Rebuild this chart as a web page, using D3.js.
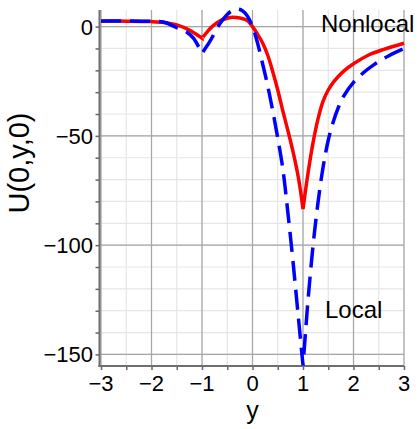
<!DOCTYPE html>
<html>
<head>
<meta charset="utf-8">
<script src="https://cdn.jsdelivr.net/npm/d3@7"></script>
<style>
  html, body { margin: 0; padding: 0; background: #fff; }
  svg { display: block; font-family: "Liberation Sans", Arial, Helvetica, sans-serif; }
</style>
</head>
<body>
<svg id="chart" width="418" height="429"></svg>
<script>
// Potential along the y axis, nonlocal vs local model
const nonlocalY = [-3, -2.5, -2, -1.75, -1.5, -1.25, -1, -0.9, -0.8, -0.65, -0.5, -0.4, -0.25, -0.1, 0, 0.1, 0.2, 0.3, 0.4, 0.5, 0.6, 0.7, 0.8, 0.9, 0.95, 1, 1.1, 1.2, 1.3, 1.4, 1.5, 1.6, 1.8, 2.0, 2.3, 2.6, 3];
const nonlocalU = [2.5, 2.5, 2.3, 1.9, 0.8, -1.6, -5.3, -2.5, 0, 2.6, 3.8, 4.3, 3.9, 2.8, 0, -3.5, -7.5, -13, -20.5, -29, -38.5, -47.5, -57, -68, -75, -83.5, -67, -53, -42, -34, -29, -25.5, -20.5, -17, -13, -10.4, -7.6];

const localY = [-3, -2.5, -2, -1.75, -1.5, -1.3, -1.17, -1, -0.85, -0.65, -0.5, -0.4, -0.3, -0.2, -0.1, 0, 0.1, 0.2, 0.3, 0.4, 0.5, 0.6, 0.7, 0.8, 0.9, 1, 1.05, 1.1, 1.2, 1.3, 1.4, 1.5, 1.6, 1.7, 1.8, 2.0, 2.2, 2.4, 2.7, 3];
const localU = [2.6, 2.6, 2.4, 2.0, -0.5, -2.6, -5.3, -12.2, -7, 1.2, 5.5, 7.4, 8.0, 7.3, 4.8, 0, -7.5, -17, -27, -38.5, -51, -65, -85, -107, -131, -155, -140, -125, -100, -80, -64, -52, -43.5, -37, -32, -25.5, -21, -17.5, -13.3, -10];

// Points where the curves have a kink
const kinks = [-1, 1];

const xTicks = [-3, -2, -1, 0, 1, 2, 3];
const yTicks = [0, -50, -100, -150];
const xMinor = d3.range(-3, 3.01, 0.5);
const yMinor = d3.range(-150, 0.01, 10);

const svg = d3.select("#chart");
const plotL = 99.5, plotR = 404, plotT = 10, plotB = 366;

const x = d3.scaleLinear().domain([-3, 3]).range([101, 404]);
const y = d3.scaleLinear().domain([-155.3, 7.6]).range([plotB, plotT]);

const grid = svg.append("g");
// minor grid
grid.selectAll(".vmin").data(xMinor).join("line")
  .attr("x1", d => x(d)).attr("x2", d => x(d)).attr("y1", plotT).attr("y2", plotB)
  .attr("stroke", "#e6e6e6").attr("stroke-width", 1.2);
grid.selectAll(".hmin").data(yMinor).join("line")
  .attr("x1", plotL).attr("x2", plotR).attr("y1", d => y(d)).attr("y2", d => y(d))
  .attr("stroke", "#e6e6e6").attr("stroke-width", 1.2);
// major grid
grid.selectAll(".vmaj").data(xTicks).join("line")
  .attr("x1", d => x(d)).attr("x2", d => x(d)).attr("y1", plotT).attr("y2", plotB)
  .attr("stroke", "#a6a6a6").attr("stroke-width", 1.2);
grid.selectAll(".hmaj").data(yTicks).join("line")
  .attr("x1", plotL).attr("x2", plotR).attr("y1", d => y(d)).attr("y2", d => y(d))
  .attr("stroke", "#a6a6a6").attr("stroke-width", 1.2);

// axes
const xAxis = svg.append("g").attr("transform", `translate(0,${plotB})`)
  .call(d3.axisBottom(x).tickValues(xMinor).tickSize(4).tickFormat(""));
const yAxis = svg.append("g").attr("transform", `translate(${plotL},0)`)
  .call(d3.axisLeft(y).tickValues(yMinor).tickSize(4).tickFormat(""));
[xAxis, yAxis].forEach(a => {
  a.select(".domain").remove();
  a.selectAll(".tick line").attr("stroke", "#666").attr("stroke-width", 1.5);
});
svg.append("line").attr("x1", plotL).attr("x2", plotL).attr("y1", plotT).attr("y2", plotB + 1)
  .attr("stroke", "#6e6e6e").attr("stroke-width", 2);
svg.append("line").attr("x1", plotL - 1).attr("x2", plotR).attr("y1", plotB).attr("y2", plotB)
  .attr("stroke", "#6e6e6e").attr("stroke-width", 2);

// tick labels
const fmt = d3.format("d");
svg.append("g").selectAll("text").data(xTicks).join("text")
  .attr("x", d => x(d)).attr("y", 391)
  .attr("text-anchor", "middle").attr("font-size", 22).attr("fill", "#000")
  .text(d => fmt(d));
svg.append("g").selectAll("text").data(yTicks).join("text")
  .attr("x", 93).attr("y", d => y(d)).attr("dy", "0.36em")
  .attr("text-anchor", "end").attr("font-size", 22).attr("fill", "#000")
  .text(d => fmt(d));

// axis titles
svg.append("text").attr("x", x(0)).attr("y", 419)
  .attr("text-anchor", "middle").attr("font-size", 25).text("y");
svg.append("text").attr("transform", "translate(29,163) rotate(-90)")
  .attr("text-anchor", "middle").attr("font-size", 29).text("U(0,y,0)");

// curves: smooth pieces joined at the kinks
function pieces(xs, us) {
  const pts = xs.map((v, i) => [v, us[i]]);
  const edges = [-Infinity, ...kinks, Infinity];
  const out = [];
  for (let i = 0; i < edges.length - 1; i++) {
    out.push(pts.filter(p => p[0] >= edges[i] && p[0] <= edges[i + 1]));
  }
  return out;
}
const line = d3.line().x(d => x(d[0])).y(d => y(d[1])).curve(d3.curveCatmullRom.alpha(0.5));
function joinedPath(xs, us) {
  return pieces(xs, us).map((seg, i) => {
    const p = line(seg);
    return i === 0 ? p : p.replace(/^M[^CL]*/, "L" + x(seg[0][0]) + "," + y(seg[0][1]));
  }).join("");
}

svg.append("path").attr("d", joinedPath(nonlocalY, nonlocalU))
  .attr("fill", "none").attr("stroke", "#ff0000").attr("stroke-width", 3.5)
  .attr("stroke-linejoin", "miter");
svg.append("path").attr("d", joinedPath(localY, localU))
  .attr("fill", "none").attr("stroke", "#0000ff").attr("stroke-width", 3.5)
  .attr("stroke-dasharray", "20,9").attr("stroke-linejoin", "miter");

// series labels
svg.append("text").attr("x", 321).attr("y", 32).attr("font-size", 24).text("Nonlocal");
svg.append("text").attr("x", 325).attr("y", 318).attr("font-size", 24).text("Local");
</script>
</body>
</html>
